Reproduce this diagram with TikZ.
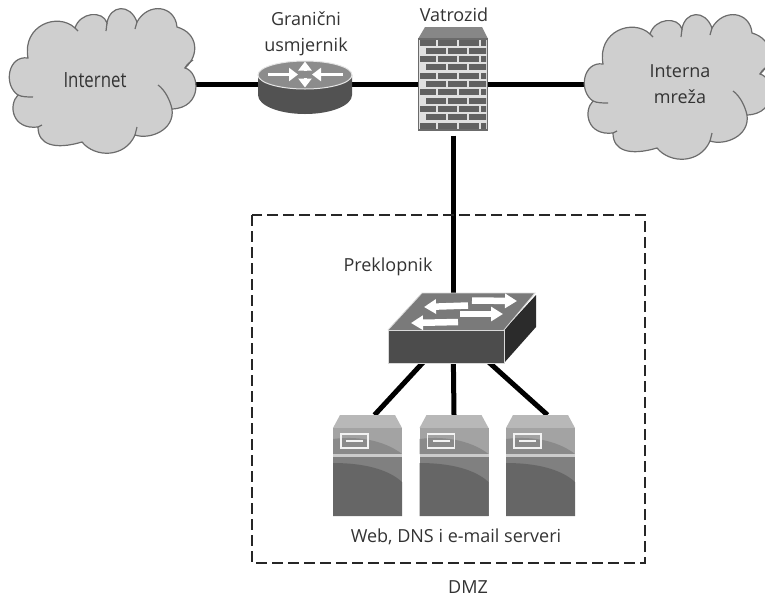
\documentclass[tikz,border=0pt]{standalone}
\usepackage{fontspec}
\usepackage{xcolor}
\setmainfont{Open Sans}
\usetikzlibrary{arrows.meta}

\definecolor{cloudfill}{HTML}{CFCFCF}
\definecolor{cloudline}{HTML}{6C6C6C}
\definecolor{labelgray}{HTML}{333333}

\tikzset{
    anchorbox/.style={inner sep=0pt, outer sep=0pt},
    link/.style={line width=5pt, black},
    label/.style={font=\fontsize{18}{26}\selectfont, text=labelgray, align=center, inner sep=0pt},
    zonebox/.style={line width=2pt, black!85, dash pattern=on 11pt off 5pt},
    whitearrow/.style={line width=3pt, white, -{Triangle[width=13pt,length=9pt]}},
    switcharrow/.style={line width=6.5pt, white, -{Triangle[width=14pt,length=12pt]}},
}

% outline of one cloud
\newcommand{\cloudoutline}{
    (28,58) .. controls (22,25) and (58,12) .. (75,28)
    .. controls (80,12) and (103,10) .. (107,23)
    .. controls (110,5) and (130,3) .. (137,22)
    .. controls (148,2) and (175,5) .. (177,27)
    .. controls (198,33) and (200,55) .. (185,68)
    .. controls (200,72) and (203,108) .. (172,109)
    .. controls (175,130) and (150,140) .. (135,135)
    .. controls (125,158) and (95,158) .. (82,142)
    .. controls (55,150) and (38,145) .. (38,127)
    .. controls (12,130) and (8,105) .. (18,95)
    .. controls (3,85) and (8,55) .. (28,58) -- cycle
}
\newcommand{\cloudshape}{
    \draw[fill=cloudfill, draw=cloudline, line width=1.2pt] \cloudoutline;
    \draw[cloudline, line width=1.2pt] (18,95) .. controls (22,97) and (28,97) .. (33,97);
    \draw[cloudline, line width=1.2pt] (158,85) .. controls (165,90) and (170,100) .. (172,109);
    \draw[cloudline, line width=1.2pt] (185,68) .. controls (187,64) and (190,62) .. (193,60);
    \draw[cloudline, line width=1.2pt] (75,28) -- (78,31);
    \draw[cloudline, line width=1.2pt] (107,23) -- (106,31);
    \draw[cloudline, line width=1.2pt] (137,22) -- (135,29);
    \draw[cloudline, line width=1.2pt] (135,135) -- (137,127);
    \draw[cloudline, line width=1.2pt] (38,127) -- (42,125);
}

\begin{document}
\begin{tikzpicture}[x=1pt, y=-1pt]
    \useasboundingbox (0,0) rectangle (765,598);

    % Positions
    \coordinate (internet) at (95,84);
    \coordinate (lan) at (680,84);
    \node[anchorbox, minimum width=94pt, minimum height=53pt] (router) at (305,84) {};
    \node[anchorbox, minimum width=70pt, minimum height=103pt] (firewall) at (453,84) {};
    \node[anchorbox, minimum width=147pt, minimum height=70pt] (switch) at (453,330) {};
    \node[anchorbox, minimum width=69pt, minimum height=101pt] (srvA) at (367.5,465.5) {};
    \node[anchorbox, minimum width=69pt, minimum height=101pt] (srvB) at (454,465.5) {};
    \node[anchorbox, minimum width=69pt, minimum height=101pt] (srvC) at (540.5,465.5) {};

    % Links
    \draw[link] (internet) -- (router);
    \draw[link] (router) -- (firewall);
    \draw[link] (firewall) -- (lan);
    \draw[link] (firewall) -- (switch);
    \draw[link] (switch.center) -- ([xshift=7pt]srvA.north);
    \draw[link] (switch.center) -- (srvB.north);
    \draw[link] (switch.center) -- ([xshift=7pt]srvC.north);

    % Clouds
    \cloudshape
    \begin{scope}[shift={(575,6)}]
        \cloudshape
    \end{scope}

    % Router
    \fill[black!68] (258,75) -- (258,95) arc[start angle=180, end angle=0, x radius=47, y radius=19] -- (352,75) -- cycle;
    \draw[fill=black!45, draw=black!10, line width=1pt] (305,75) ellipse[x radius=47, y radius=14];
    \draw[whitearrow] (268,74.5) -- (298,74.5);
    \draw[whitearrow] (343,74.5) -- (312,74.5);
    \draw[whitearrow] (305,71) -- (305,61.5);
    \draw[whitearrow] (305,78) -- (305,87.5);

    % Firewall
    \fill[black!47] (418,39) -- (425,27) -- (482,27) -- (488,39) -- cycle;
    \fill[black!12] (418,39) rectangle (488,130);
    \begin{scope}
        \clip (420,39) rectangle (486,128);
        \foreach \row in {0,...,10} {
            \pgfmathsetmacro{\brickshift}{mod(\row,2)==0 ? -3 : 7}
            \foreach \col in {0,...,3} {
                \fill[black!62] ({419+\brickshift+\col*21.7},{39.5+\row*8.3}) rectangle ++(19.5,6);
            }
        }
    \end{scope}
    \draw[black!58, line width=1.5pt] (418.7,39) rectangle (487.3,130);

    % Switch
    \fill[black!52] (388,330) -- (422,293) -- (535,293) -- (504,330) -- cycle;
    \fill[black!70] (388,330) rectangle (504,363);
    \fill[black!83] (504,330) -- (536,295) -- (536,327) -- (504,363) -- cycle;
    \draw[black!15, line width=.8pt] (388,363) -- (388,330) -- (504,330) -- (504,363) -- cycle;
    \draw[black!15, line width=.8pt] (504,330) -- (535,293) -- (422,293) -- (388,330);
    \draw[switcharrow] (468,305.5) -- (424,307);
    \draw[switcharrow] (472,300.5) -- (517,301);
    \draw[switcharrow] (458,322) -- (411,323);
    \draw[switcharrow] (460,314) -- (503,314);

    % Servers
    \foreach \xleft in {333,419.5,506} {
        \begin{scope}[shift={(\xleft,415)}]
            \fill[black!28] (0,13) -- (7,0) -- (62,0) -- (69,13) -- cycle;
            \fill[black!36] (0,13) rectangle (69,39);
            \fill[black!46] (0,24) .. controls (30,20) and (55,28) .. (69,39) -- (0,39) -- cycle;
            \fill[black!20] (0,39) rectangle (69,42);
            \fill[black!50] (0,42) rectangle (69,101);
            \fill[black!60] (0,48) .. controls (30,48) and (55,54) .. (69,67) -- (69,101) -- (0,101) -- cycle;
            \draw[black!5, line width=1.3pt] (8,19) rectangle (35,33);
            \draw[black!5, line width=1.3pt] (13,26) -- (30,26);
        \end{scope}
    }

    % Zone
    \draw[zonebox] (252,215) rectangle (645,563);

    % Labels
    \node[label, font=\fontsize{21}{24}\selectfont, xscale=.8] (internetlabel) at (95,80) {Internet};
    \node[label] (lanlabel) at (680,84) {Interna\\mreža};
    \node[label] (routerlabel) at (306,34) {Granični\\usmjernik};
    \node[label] (firewalllabel) at (454,15) {Vatrozid};
    \node[label] (switchlabel) at (388,267) {Preklopnik};
    \node[label] (serverlabel) at (456,537) {Web, DNS i e-mail serveri};
    \node[label] (zonelabel) at (468,587) {DMZ};
\end{tikzpicture}
\end{document}
